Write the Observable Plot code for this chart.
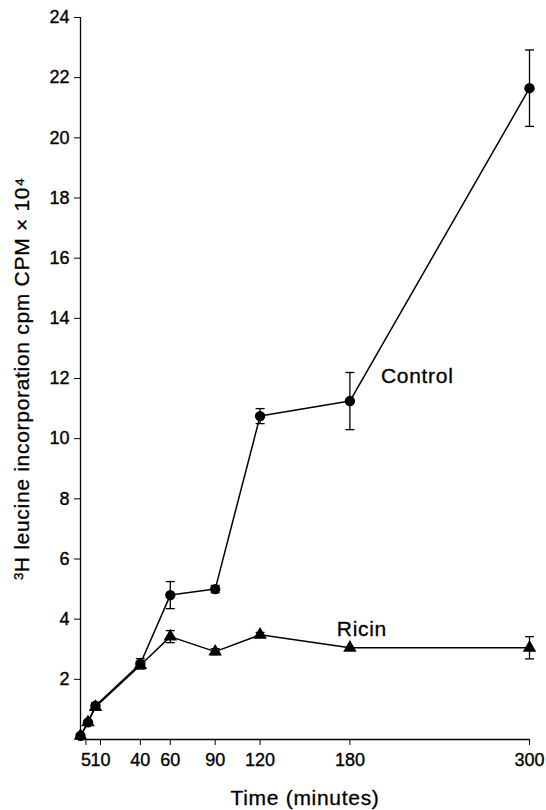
<!DOCTYPE html>
<html>
<head>
<meta charset="utf-8">
<script src="https://cdn.jsdelivr.net/npm/d3@7"></script>
<script src="https://cdn.jsdelivr.net/npm/@observablehq/plot@0.6"></script>
<style>
  html, body { margin: 0; padding: 0; background: #fff; }
  #chart svg { display: block; }
  #chart g[aria-label="text"] text { letter-spacing: 0.7px; }
</style>
</head>
<body>
<div id="chart"></div>
<script>
// Time points (minutes)
const times = [0, 5, 10, 40, 60, 90, 120, 180, 300];
// Control series (CPM x 10^4) and error half-widths
const control = [0.12, 0.57, 1.12, 2.52, 4.8, 5.0, 10.75, 11.25, 21.65];
const controlErr = [0, 0, 0.1, 0.17, 0.45, 0.12, 0.25, 0.95, 1.27];
// Ricin series and error half-widths
const ricin = [0.12, 0.57, 1.08, 2.47, 3.42, 2.92, 3.48, 3.05, 3.05];
const ricinErr = [0, 0, 0, 0.12, 0.2, 0.1, 0.08, 0, 0.37];
// Axis ticks
const xTicks = [40, 60, 90, 120, 180, 300];
const xTicksLeft = [5];
const xTicksRight = [10];
const yTicks = [2, 4, 6, 8, 10, 12, 14, 16, 18, 20, 22, 24];
// Texts
const xLabel = "Time (minutes)";
const yLabel = "³H leucine incorporation cpm CPM × 10⁴";
const seriesLabels = [
  {name: "Control", t: 225, v: 12.06},
  {name: "Ricin", t: 188, v: 3.66}
];

const rows = [
  ...times.map((t, i) => ({t, v: control[i], e: controlErr[i], s: "Control"})),
  ...times.map((t, i) => ({t, v: ricin[i], e: ricinErr[i], s: "Ricin"}))
];
const errRows = rows.filter(d => d.e > 0);
const caps = errRows.flatMap(d => [{t: d.t, v: d.v + d.e}, {t: d.t, v: d.v - d.e}]);

const capSymbol = {
  draw(context, size) {
    const w = Math.sqrt(size / Math.PI);
    context.moveTo(-w, 0);
    context.lineTo(w, 0);
  }
};

const font = "'Liberation Sans', Arial, Helvetica, sans-serif";
const axisText = {fontSize: 18, label: null, stroke: "#000", fill: "#000", textStroke: "#000", textStrokeWidth: 0.35};
const labelText = {fill: "#000", stroke: "#000", strokeWidth: 0.3, fontSize: 21};

const chart = Plot.plot({
  width: 546,
  height: 810,
  marginLeft: 80,
  marginRight: 17,
  marginTop: 17,
  marginBottom: 71,
  style: {fontFamily: font, background: "#fff", color: "#000"},
  x: {type: "linear", domain: [0, 300], axis: null},
  y: {type: "linear", domain: [0, 24], axis: null},
  marks: [
    Plot.ruleX([0], {stroke: "#000", strokeWidth: 1.3}),
    Plot.ruleY([0], {stroke: "#000", strokeWidth: 1.3}),
    Plot.axisY({ticks: yTicks, tickSize: 6, tickPadding: 5, ...axisText}),
    Plot.axisX({ticks: xTicks, tickSize: 6, tickPadding: 8, ...axisText}),
    Plot.axisX({ticks: xTicksLeft, tickSize: 6, tickPadding: 8, dx: -2, ...axisText}),
    Plot.axisX({ticks: xTicksRight, tickSize: 6, tickPadding: 8, dx: 5, ...axisText}),
    Plot.line(rows, {x: "t", y: "v", z: "s", stroke: "#000", strokeWidth: 1.5}),
    Plot.ruleX(errRows, {x: "t", y1: d => d.v - d.e, y2: d => d.v + d.e, stroke: "#000", strokeWidth: 1.3}),
    Plot.dot(caps, {x: "t", y: "v", symbol: capSymbol, r: 4.5, stroke: "#000", strokeWidth: 1.3, fill: "none"}),
    Plot.dot(rows.filter(d => d.s === "Ricin"), {x: "t", y: "v", symbol: "triangle", r: 5, fill: "#000", stroke: "none"}),
    Plot.dot(rows.filter(d => d.s === "Control"), {x: "t", y: "v", r: 5.2, fill: "#000", stroke: "none"}),
    Plot.text(seriesLabels, {x: "t", y: "v", text: "name", ...labelText}),
    Plot.text([yLabel], {frameAnchor: "left", textAnchor: "middle", rotate: -90, dx: -58, ...labelText}),
    Plot.text([xLabel], {frameAnchor: "bottom", dy: 65, ...labelText})
  ]
});

document.getElementById("chart").appendChild(chart);
</script>
</body>
</html>
